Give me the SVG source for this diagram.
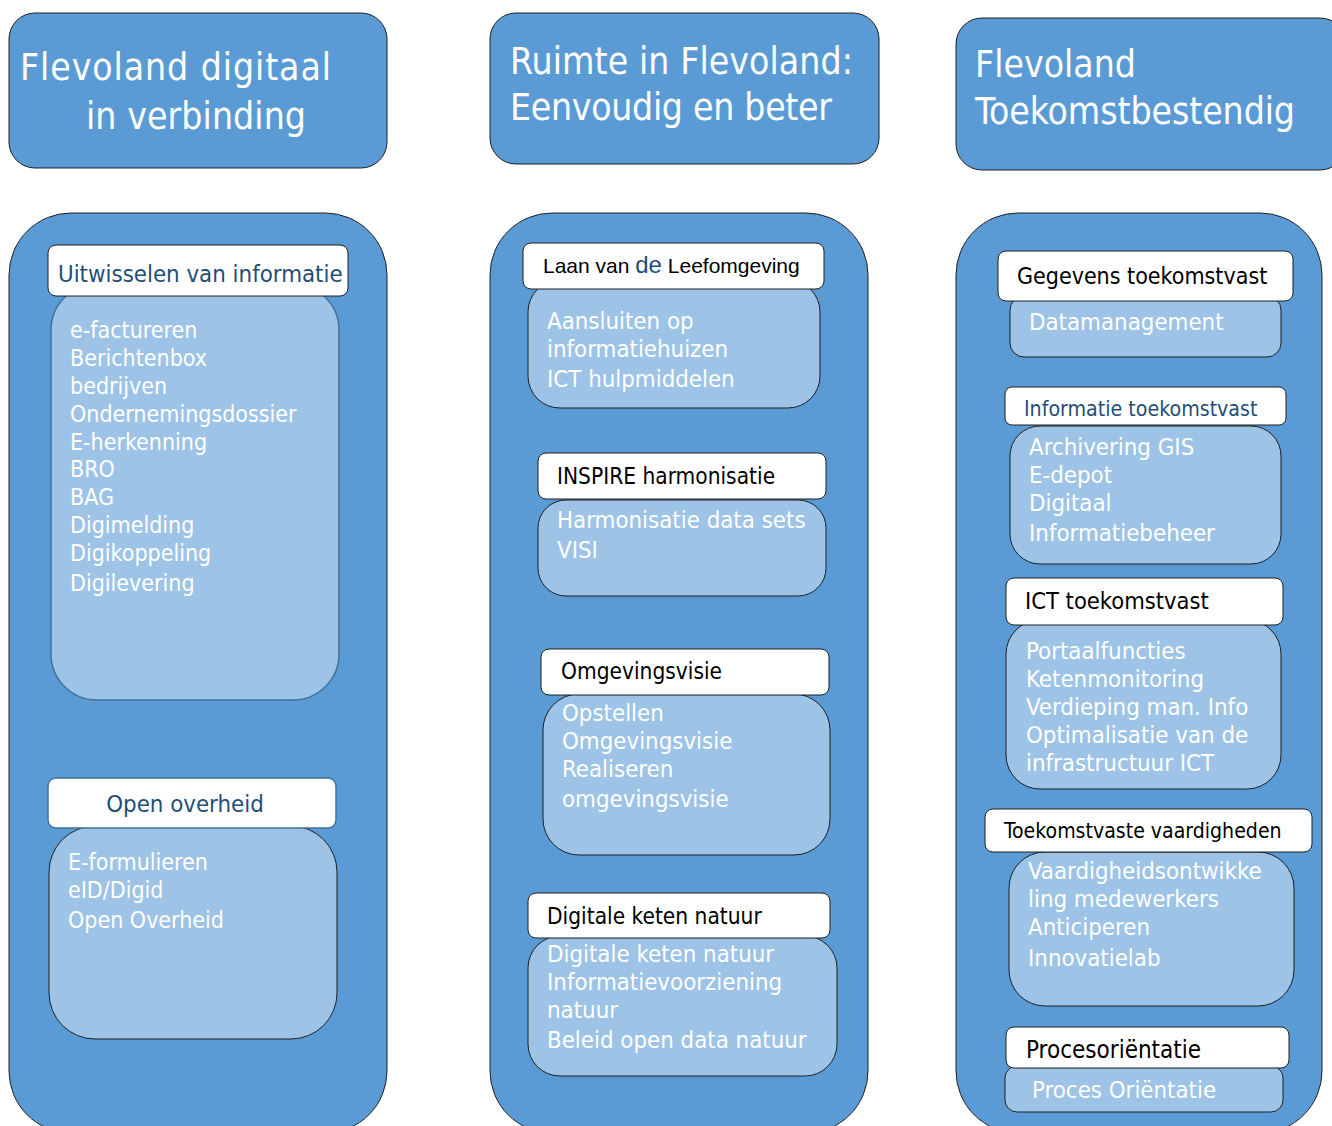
<svg xmlns="http://www.w3.org/2000/svg" width="1332" height="1126" viewBox="0 0 1332 1126">
<style>
.bg{fill:#ffffff}
.title{fill:#5b9bd5;stroke:#1f1f1f;stroke-width:1}
.col{fill:#5b9bd5;stroke:#1f1f1f;stroke-width:1}
.hdr{fill:#ffffff;stroke:#1f1f1f;stroke-width:1}
.hdrb{fill:#ffffff;stroke:#41719c;stroke-width:1.5}
.body{fill:#9dc3e6;stroke:#1f1f1f;stroke-width:1}
.bodyb{fill:#9dc3e6;stroke:#41719c;stroke-width:1.5}
text{font-family:"DejaVu Sans Condensed","DejaVu Sans",sans-serif}
.tt{fill:#ffffff;font-size:37px}
.ht{fill:#000000;font-size:22.5px}
.hb{fill:#1f4e79;font-size:23.8px}
.bt{fill:#ffffff;font-size:23.8px}
.bt1{fill:#ffffff;font-size:23px}
.ar{font-family:"Liberation Sans",Arial,sans-serif;font-size:21px;fill:#000000}
</style>
<rect class="bg" x="0" y="0" width="1332" height="1126"/>

<g id="title1">
<rect class="title" x="9" y="13" width="378" height="155" rx="26"/>
<text class="tt" x="20" y="80" textLength="311">Flevoland digitaal</text>
<text class="tt" x="86" y="129" textLength="220">in verbinding</text>
</g>
<g id="title2">
<rect class="title" x="490" y="13" width="389" height="151" rx="26"/>
<text class="tt" x="510" y="74" textLength="343">Ruimte in Flevoland:</text>
<text class="tt" x="510" y="120" textLength="322">Eenvoudig en beter</text>
</g>
<g id="title3">
<rect class="title" x="956" y="18" width="390" height="152" rx="26"/>
<text class="tt" x="975" y="77" textLength="161">Flevoland</text>
<text class="tt" x="975" y="124" textLength="320">Toekomstbestendig</text>
</g>

<g id="column1">
<rect class="col" x="9" y="213" width="378" height="920" rx="62"/>
</g>
<g id="column2">
<rect class="col" x="490" y="213" width="378" height="920" rx="62"/>
</g>
<g id="column3">
<rect class="col" x="956" y="213" width="366" height="920" rx="62"/>
</g>

<g id="uitwisselen">
<rect class="bodyb" x="51" y="284" width="288" height="416" rx="46"/>
<rect class="hdr" x="48" y="245" width="300" height="51" rx="8"/>
<text class="hb" x="58" y="282">Uitwisselen van informatie</text>
<text class="bt1" x="70" y="338">e-factureren</text>
<text class="bt1" x="70" y="366">Berichtenbox</text>
<text class="bt1" x="70" y="394">bedrijven</text>
<text class="bt1" x="70" y="422">Ondernemingsdossier</text>
<text class="bt1" x="70" y="450">E-herkenning</text>
<text class="bt1" x="70" y="477">BRO</text>
<text class="bt1" x="70" y="505">BAG</text>
<text class="bt1" x="70" y="533">Digimelding</text>
<text class="bt1" x="70" y="561">Digikoppeling</text>
<text class="bt1" x="70" y="591">Digilevering</text>
</g>

<g id="openoverheid">
<rect class="body" x="49" y="826" width="288" height="213" rx="46"/>
<rect class="hdrb" x="48" y="778" width="288" height="50" rx="8"/>
<text class="hb" x="185" y="812" text-anchor="middle">Open overheid</text>
<text class="bt1" x="68" y="870">E-formulieren</text>
<text class="bt1" x="68" y="898">eID/Digid</text>
<text class="bt1" x="68" y="928">Open Overheid</text>
</g>

<g id="laan">
<rect class="body" x="528" y="280" width="292" height="128" rx="32"/>
<rect class="hdr" x="523" y="243" width="301" height="46" rx="8"/>
<text class="ar" x="543" y="273">Laan van <tspan fill="#1f4e79" font-size="24px">de</tspan> Leefomgeving</text>
<text class="bt" x="547" y="329">Aansluiten op</text>
<text class="bt" x="547" y="357">informatiehuizen</text>
<text class="bt" x="547" y="387">ICT hulpmiddelen</text>
</g>

<g id="inspire">
<rect class="body" x="538" y="500" width="288" height="96" rx="28"/>
<rect class="hdr" x="538" y="453" width="288" height="46" rx="8"/>
<text class="ht" x="557" y="484">INSPIRE harmonisatie</text>
<text class="bt" x="557" y="528">Harmonisatie data sets</text>
<text class="bt" x="557" y="558">VISI</text>
</g>

<g id="omgevingsvisie">
<rect class="body" x="543" y="694" width="287" height="161" rx="36"/>
<rect class="hdr" x="541" y="649" width="288" height="46" rx="8"/>
<text class="ht" x="561" y="679">Omgevingsvisie</text>
<text class="bt" x="562" y="721">Opstellen</text>
<text class="bt" x="562" y="749">Omgevingsvisie</text>
<text class="bt" x="562" y="777">Realiseren</text>
<text class="bt" x="562" y="807">omgevingsvisie</text>
</g>

<g id="ketennatuur">
<rect class="body" x="528" y="936" width="309" height="140" rx="32"/>
<rect class="hdr" x="528" y="893" width="302" height="45" rx="8"/>
<text class="ht" x="547" y="924">Digitale keten natuur</text>
<text class="bt" x="547" y="962">Digitale keten natuur</text>
<text class="bt" x="547" y="990">Informatievoorziening</text>
<text class="bt" x="547" y="1018">natuur</text>
<text class="bt" x="547" y="1048">Beleid open data natuur</text>
</g>

<g id="gegevens">
<rect class="body" x="1010" y="296" width="271" height="61" rx="14"/>
<rect class="hdr" x="998" y="251" width="295" height="50" rx="8"/>
<text class="ht" x="1017" y="284" style="font-size:23px">Gegevens toekomstvast</text>
<text class="bt" x="1029" y="330">Datamanagement</text>
</g>

<g id="informatie">
<rect class="body" x="1010" y="426" width="271" height="138" rx="30"/>
<rect class="hdr" x="1005" y="387" width="281" height="38" rx="7"/>
<text class="hb" x="1024" y="416" style="font-size:21.2px">Informatie toekomstvast</text>
<text class="bt" x="1029" y="455">Archivering GIS</text>
<text class="bt" x="1029" y="483">E-depot</text>
<text class="bt" x="1029" y="511">Digitaal</text>
<text class="bt" x="1029" y="541">Informatiebeheer</text>
</g>

<g id="ict">
<rect class="body" x="1006" y="620" width="275" height="169" rx="34"/>
<rect class="hdr" x="1006" y="578" width="277" height="47" rx="8"/>
<text class="ht" x="1025" y="609" style="font-size:23.5px">ICT toekomstvast</text>
<text class="bt" x="1026" y="659">Portaalfuncties</text>
<text class="bt" x="1026" y="687">Ketenmonitoring</text>
<text class="bt" x="1026" y="715">Verdieping man. Info</text>
<text class="bt" x="1026" y="743">Optimalisatie van de</text>
<text class="bt" x="1026" y="771">infrastructuur ICT</text>
</g>

<g id="vaardigheden">
<rect class="body" x="1009" y="852" width="285" height="154" rx="36"/>
<rect class="hdr" x="985" y="809" width="327" height="43" rx="8"/>
<text class="ht" x="1004" y="838" style="font-size:21.1px">Toekomstvaste vaardigheden</text>
<text class="bt" x="1028" y="879">Vaardigheidsontwikke</text>
<text class="bt" x="1028" y="907">ling medewerkers</text>
<text class="bt" x="1028" y="935">Anticiperen</text>
<text class="bt" x="1028" y="966">Innovatielab</text>
</g>

<g id="proces">
<rect class="body" x="1005" y="1066" width="278" height="46" rx="12"/>
<rect class="hdr" x="1006" y="1027" width="283" height="41" rx="8"/>
<text class="ht" x="1026" y="1058" style="font-size:24px">Procesoriëntatie</text>
<text class="bt" x="1032" y="1098">Proces Oriëntatie</text>
</g>

<g id="connectors"></g>
</svg>
